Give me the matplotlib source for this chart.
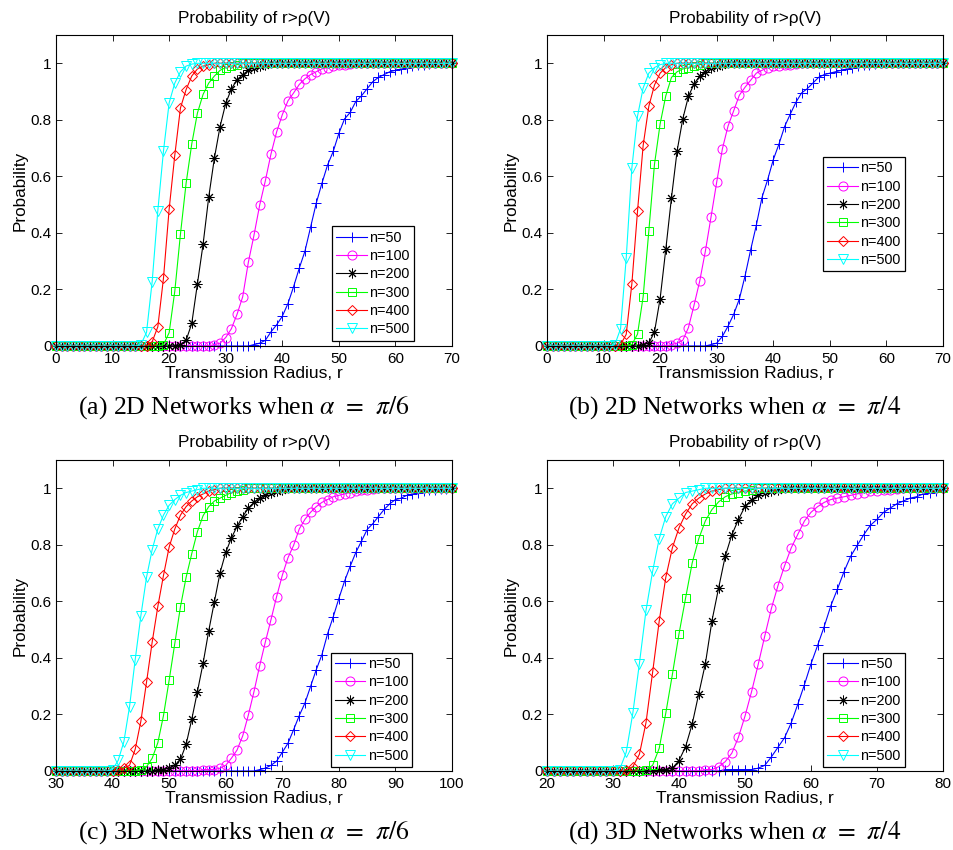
import matplotlib
matplotlib.use("Agg")
import matplotlib.pyplot as plt
import numpy as np

plt.rcParams["font.family"] = ["Liberation Sans", "DejaVu Sans"]
plt.rcParams["mathtext.fontset"] = "stix"

LABELS = ["n=50", "n=100", "n=200", "n=300", "n=400", "n=500"]
COLORS = ["#0000FF", "#FF00FF", "#000000", "#00FF00", "#FF0000", "#00FFFF"]
MARKERS = ["+", "o", (8, 2, 0), "s", "D", "v"]
MSIZES = [7.5, 6.5, 7, 6, 5.5, 7.5]

CAPTIONS = [r"(a) 2D Networks when $\alpha\;\,=\;\,\pi/6$",
            r"(b) 2D Networks when $\alpha\;\,=\;\,\pi/4$",
            r"(c) 3D Networks when $\alpha\;\,=\;\,\pi/6$",
            r"(d) 3D Networks when $\alpha\;\,=\;\,\pi/4$"]

# x range of each panel (step 1)
XRANGE = [(0, 70), (0, 70), (30, 100), (20, 80)]

# transition part of each curve: (first x, values)
# before first x the curve sits at 0, after the list it sits at 1
A = [(35, [0.005, 0.01, 0.02, 0.05, 0.075, 0.105, 0.15, 0.21, 0.275, 0.335, 0.42, 0.505, 0.575,
           0.64, 0.688, 0.752, 0.803, 0.826, 0.865, 0.885, 0.91, 0.935, 0.95, 0.96, 0.97, 0.975,
           0.98, 0.985, 0.99, 0.993, 0.995, 0.997]),
     (28, [0.005, 0.01, 0.03, 0.061, 0.112, 0.174, 0.296, 0.392, 0.498, 0.584, 0.679, 0.757, 0.818,
           0.867, 0.895, 0.925, 0.945, 0.96, 0.97, 0.98, 0.985, 0.99, 0.993, 0.995, 0.997]),
     (22, [0.005, 0.02, 0.08, 0.22, 0.36, 0.527, 0.665, 0.776, 0.858, 0.909, 0.942, 0.96, 0.975,
           0.985, 0.99, 0.995]),
     (19, [0.005, 0.047, 0.194, 0.396, 0.576, 0.715, 0.824, 0.89, 0.93, 0.955, 0.975, 0.985, 0.99,
           0.995]),
     (16, [0.0, 0.015, 0.068, 0.24, 0.484, 0.675, 0.842, 0.907, 0.955, 0.98, 0.99, 0.995]),
     (15, [0.005, 0.048, 0.228, 0.479, 0.69, 0.86, 0.93, 0.97, 0.99, 0.997])]

B = [(29, [0.005, 0.01, 0.034, 0.07, 0.112, 0.166, 0.247, 0.34, 0.427, 0.525, 0.588, 0.659, 0.714,
           0.776, 0.82, 0.862, 0.895, 0.91, 0.93, 0.95, 0.96, 0.965, 0.97, 0.975, 0.98, 0.985,
           0.99, 0.993, 0.995, 0.997]),
     (22, [0.005, 0.01, 0.02, 0.065, 0.145, 0.23, 0.336, 0.457, 0.58, 0.697, 0.778, 0.832, 0.887,
           0.915, 0.94, 0.965, 0.975, 0.985, 0.99, 0.99, 0.993, 0.995, 0.997]),
     (17, [0.005, 0.01, 0.05, 0.168, 0.342, 0.524, 0.69, 0.803, 0.883, 0.927, 0.955, 0.97, 0.985,
           0.99, 0.995]),
     (15, [0.005, 0.042, 0.175, 0.407, 0.643, 0.786, 0.885, 0.95, 0.97, 0.98, 0.985, 0.99, 0.995]),
     (13, [0.005, 0.041, 0.22, 0.477, 0.71, 0.848, 0.923, 0.965, 0.985, 0.995]),
     (12, [0.005, 0.061, 0.31, 0.63, 0.813, 0.913, 0.965, 0.985, 0.995])]

C = [(66, [0.005, 0.01, 0.02, 0.035, 0.066, 0.098, 0.146, 0.196, 0.24, 0.299, 0.358, 0.411, 0.485,
           0.545, 0.61, 0.671, 0.724, 0.773, 0.813, 0.854, 0.875, 0.9, 0.925, 0.945, 0.96, 0.965,
           0.975, 0.98, 0.985, 0.99, 0.993, 0.995, 0.997, 0.998]),
     (56, [0.005, 0.005, 0.005, 0.01, 0.02, 0.045, 0.074, 0.124, 0.198, 0.281, 0.372, 0.456, 0.535,
           0.617, 0.692, 0.754, 0.798, 0.856, 0.89, 0.915, 0.935, 0.95, 0.96, 0.97, 0.975, 0.98,
           0.985, 0.99, 0.993, 0.995, 0.997]),
     (48, [0.005, 0.005, 0.01, 0.02, 0.041, 0.094, 0.183, 0.281, 0.381, 0.496, 0.599, 0.701, 0.773,
           0.824, 0.865, 0.9, 0.93, 0.95, 0.965, 0.975, 0.985, 0.99, 0.995]),
     (45, [0.005, 0.015, 0.045, 0.1, 0.196, 0.321, 0.451, 0.581, 0.685, 0.769, 0.847, 0.903, 0.935,
           0.955, 0.965, 0.975, 0.985, 0.99, 0.995]),
     (41, [0.005, 0.01, 0.02, 0.077, 0.176, 0.314, 0.456, 0.582, 0.692, 0.792, 0.856, 0.905, 0.935,
           0.955, 0.97, 0.98, 0.99, 0.995]),
     (40, [0.005, 0.038, 0.104, 0.228, 0.394, 0.549, 0.685, 0.783, 0.856, 0.905, 0.94, 0.96, 0.975,
           0.985, 0.99, 0.995])]

D = [(47, [0.005, 0.005, 0.005, 0.005, 0.005, 0.01, 0.02, 0.05, 0.084, 0.118, 0.17, 0.236, 0.305,
           0.379, 0.444, 0.511, 0.584, 0.643, 0.705, 0.759, 0.798, 0.836, 0.869, 0.89, 0.915,
           0.93, 0.945, 0.955, 0.965, 0.97, 0.98, 0.985, 0.99, 0.995]),
     (44, [0.005, 0.005, 0.015, 0.033, 0.063, 0.119, 0.194, 0.281, 0.377, 0.478, 0.575, 0.656,
           0.726, 0.789, 0.837, 0.884, 0.915, 0.935, 0.95, 0.96, 0.965, 0.97, 0.975, 0.98, 0.985,
           0.99, 0.99, 0.993, 0.995, 0.997]),
     (37, [0.005, 0.005, 0.01, 0.037, 0.086, 0.166, 0.274, 0.38, 0.532, 0.647, 0.759, 0.835, 0.889,
           0.936, 0.96, 0.975, 0.985, 0.99, 0.995]),
     (35, [0.005, 0.02, 0.08, 0.205, 0.342, 0.485, 0.612, 0.736, 0.822, 0.885, 0.925, 0.952, 0.97,
           0.98, 0.985, 0.99, 0.995]),
     (32, [0.005, 0.015, 0.059, 0.171, 0.349, 0.53, 0.685, 0.79, 0.86, 0.909, 0.945, 0.965, 0.98,
           0.99, 0.995]),
     (31, [0.005, 0.066, 0.204, 0.38, 0.568, 0.706, 0.822, 0.9, 0.945, 0.965, 0.985, 0.99, 0.995])]

PANELS = [A, B, C, D]

# legend upper-left corner in axes fraction
LEG_POS = [(0.697, 0.385), (0.697, 0.608), (0.694, 0.38), (0.697, 0.38)]


def full_curve(xlo, xhi, onset, vals):
    ys = [0.0] * (onset - xlo) + list(vals)
    ys += [1.0] * (xhi - xlo + 1 - len(ys))
    return np.arange(xlo, xhi + 1), np.array(ys[:xhi - xlo + 1])


fig = plt.figure(figsize=(9.54, 8.5), dpi=100)
W, H = 954, 850
boxes = [(56, 35), (547, 35), (56, 460), (547, 460)]  # left, top in px
aw, ah = 396, 311

for i, (left, top) in enumerate(boxes):
    ax = fig.add_axes([left / W, 1 - (top + ah) / H, aw / W, ah / H])
    xlo, xhi = XRANGE[i]
    for j, (onset, vals) in enumerate(PANELS[i]):
        xs, ys = full_curve(xlo, xhi, onset, vals)
        ax.plot(xs, ys, color=COLORS[j], marker=MARKERS[j], markersize=MSIZES[j],
                markerfacecolor="none", markeredgewidth=0.7, linewidth=0.8, label=LABELS[j],
                clip_on=False)
    ax.set_xlim(xlo, xhi)
    ax.set_ylim(0, 1.1)
    ax.set_xticks(np.arange(xlo, xhi + 1, 10))
    ax.set_yticks([0, 0.2, 0.4, 0.6, 0.8, 1.0])
    ax.set_yticklabels(["0", "0.2", "0.4", "0.6", "0.8", "1"])
    ax.tick_params(direction="in", top=True, right=True, length=4, width=0.6,
                   labelsize=11)
    ax.tick_params(axis="x", pad=4.5)
    ax.tick_params(axis="y", pad=3)
    for s in ax.spines.values():
        s.set_linewidth(0.8)
    ax.set_title("Probability of r>\u03c1(V)", fontsize=12.3, pad=9)
    ax.set_xlabel("Transmission Radius, r", fontsize=12.5, labelpad=0)
    ax.set_ylabel("Probability", fontsize=12.3, labelpad=2)
    leg = ax.legend(loc="upper left", bbox_to_anchor=LEG_POS[i], fontsize=10.4,
                    fancybox=False, edgecolor="black", framealpha=1, borderpad=0.3,
                    labelspacing=0.3, handlelength=2.1, handletextpad=0.15,
                    borderaxespad=0)
    leg.get_frame().set_linewidth(0.9)
    fig.text((left + aw / 2 - 10) / W, 1 - (top + 373) / H, CAPTIONS[i],
             ha="center", va="center", fontsize=18.5, family="Liberation Serif")

fig.savefig("out.png", dpi=100)
